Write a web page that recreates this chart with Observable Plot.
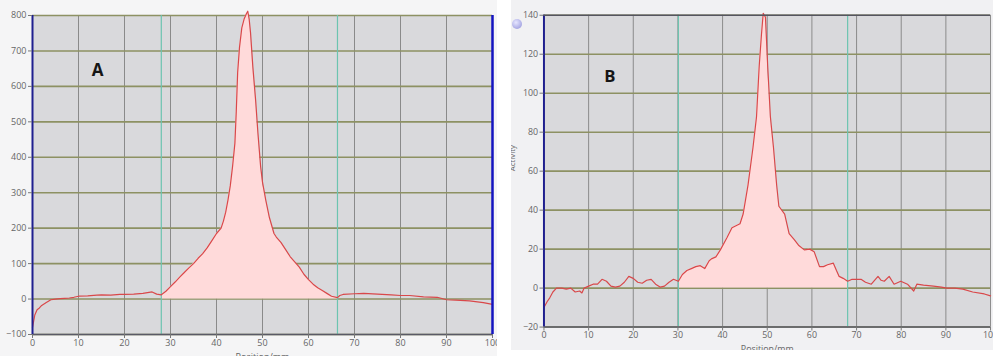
<!DOCTYPE html>
<html>
<head>
<meta charset="utf-8">
<script src="https://cdn.jsdelivr.net/npm/d3@7"></script>
<script src="https://cdn.jsdelivr.net/npm/@observablehq/plot@0.6"></script>
<style>
  html, body { margin: 0; padding: 0; background: #ffffff; overflow: hidden; }
  #wrap { position: relative; width: 993px; height: 356px; overflow: hidden; }
  #wrap > .panel { position: absolute; top: 0; }
  #icon { position: absolute; left: 512px; top: 19px; width: 10px; height: 10px; border-radius: 50%;
          background: radial-gradient(circle at 40% 35%, #e6e6ff, #8f8fd8); }
</style>
</head>
<body>
<div id="wrap">
  <div class="panel" id="pa" style="left:0px"></div>
  <div class="panel" id="pb" style="left:511px"></div>
  <div id="icon"></div>
</div>
<script>
// ---- shared ticks ----
const xTicks = [0, 10, 20, 30, 40, 50, 60, 70, 80, 90, 100];
const xTitle = "Position/mm";

// ---- panel A ----
const aLabel = "A";
const aYTicks = [-100, 0, 100, 200, 300, 400, 500, 600, 700, 800];
const aYDomain = [-100, 800];
const aMarkers = [28, 66.3];
const aPos = [0, 0.5, 1, 1.5, 2, 3, 4, 5, 6, 7, 8, 9, 10, 12, 14, 15, 17, 19, 20, 22, 24, 25, 26, 27, 28,
  29, 30, 31, 32, 33, 34, 35, 36, 37, 38, 39, 40, 41, 41.5, 42, 42.5, 43, 43.5, 44, 44.3, 44.6, 45, 45.5, 46, 46.5, 46.8,
  47.1, 47.4, 47.9, 48.5, 49, 49.6, 50, 50.7, 51.5, 52.5, 53, 54, 55, 56, 57, 58, 59, 60, 61, 62, 63, 64, 65, 66.3,
  66.8, 67.5, 70, 72, 75, 78, 80, 82, 85, 88, 90, 92, 95, 98, 100];
const aAct = [-80, -45, -30, -25, -18, -10, -2, 0, 1, 2, 3, 5, 8, 9, 11, 12, 11, 13, 13, 14, 16, 18, 20, 14, 12,
  22, 35, 48, 62, 75, 88, 100, 115, 128, 145, 165, 185, 200, 220, 245, 280, 320, 375, 440, 530, 640, 710, 765, 790, 805, 812,
  790, 751, 655, 562, 469, 373, 330, 280, 230, 185, 175, 160, 140, 120, 105, 90, 70, 55, 42, 32, 24, 16, 8, 4,
  10, 13, 15, 16, 14, 12, 10, 10, 6, 5, -2, -3, -5, -10, -15];

// ---- panel B ----
const bLabel = "B";
const bYTitle = "Activity";
const bYTicks = [-20, 0, 20, 40, 60, 80, 100, 120, 140];
const bYDomain = [-20, 140];
const bMarkers = [30.1, 68];
const bPos = [0, 0.7, 1.3, 2, 2.8, 4, 5, 6, 7, 8, 8.5, 9, 10, 11, 12, 13, 14, 15, 16, 17, 18, 19, 20, 21, 22, 23, 24,
  25, 26, 27, 28, 29, 30.1, 31, 32, 33, 34, 35, 36, 37, 37.5, 38.5, 39.5, 41, 42.1, 43, 43.9, 44.6, 45.7, 46.8, 47.6,
  48.2, 48.7, 49.1, 49.6, 50.1, 50.7, 51.4, 52.1, 52.6, 53.9, 54.9, 56, 57, 58.3, 59.5, 60.5, 61.7, 62.6, 63.5, 64.8,
  65.5, 66.1, 67, 68, 69, 71, 72, 73.3, 74.8, 75.5, 76.2, 77.3, 78.4, 79.9, 81.4, 82.8, 83.5, 85, 87.2, 89, 90.2, 92,
  93.8, 96, 98.6, 100];
const bAct = [-10, -7, -5, -2, 0, 0, -0.5, 0, -2, -1.5, -2.5, 0, 1, 2, 2, 4.5, 3.5, 1, 0.5, 1, 3, 6, 5, 3, 2.5, 4, 4.5,
  2, 0.5, 1, 3, 4.5, 3.5, 7, 9, 10, 11, 11.5, 10, 14, 15, 16, 19.6, 26, 31, 32, 33, 38, 53, 72, 88,
  114, 130, 141, 139, 114, 88, 72, 53, 42, 38, 28, 25, 22, 19.6, 20, 18.7, 11, 11, 12, 12.8,
  9, 6, 5, 3.5, 4.5, 4.5, 3, 2, 6, 4, 3.5, 6, 2, 3.5, 2, -1.5, 2, 1.5, 1, 0.5, 0, 0,
  -0.5, -2, -3, -4];

function panel(o) {
  const data = o.pos.map((x, i) => ({x, y: o.act[i]}));
  const inside = data.filter(d => d.x >= o.markers[0] && d.x <= o.markers[1]);
  const marks = [
    Plot.frame({fill: "#d9d9dc", stroke: null}),
    Plot.ruleX(xTicks, {stroke: "#8a8a8a", strokeWidth: 1}),
    Plot.ruleY(o.yTicks, {stroke: "#8d9163", strokeWidth: 1.6}),
    Plot.areaY(inside, {x: "x", y1: 0, y2: "y", fill: "#ffdada"}),
    Plot.ruleX(o.markers, {stroke: "#6cc4b0", strokeWidth: 1.2}),
    Plot.line(data, {x: "x", y: "y", stroke: "#d9484a", strokeWidth: 1.2}),
    Plot.ruleY([o.yDomain[0]], {stroke: "#5a5a66", strokeWidth: 1.5}),
    Plot.ruleX([0], {stroke: "#1f1f8f", strokeWidth: 2}),
    Plot.axisY(o.yTicks, {tickSize: 4, tickPadding: 2, label: null, stroke: "#777", fill: "#666"}),
    Plot.axisX(xTicks, {tickSize: 4, tickPadding: 1, label: null, stroke: "#777", fill: "#666"}),
    Plot.text([xTitle], {frameAnchor: "bottom", dy: 19, lineAnchor: "top", fill: "#666", fontSize: 9}),
    Plot.text([o.label], {frameAnchor: "top-left", dx: o.ldx, dy: o.ldy, textAnchor: "middle", lineAnchor: "middle",
      fontSize: 17, fontWeight: "bold", fill: "#151515"})
  ];
  if (o.rightBorder) marks.push(Plot.ruleX([100], {stroke: "#1414c0", strokeWidth: 2.5}));
  if (o.topBorder) marks.push(Plot.ruleY([o.yDomain[1]], {stroke: "#55555f", strokeWidth: 1.5}));
  if (o.yTitle) marks.push(Plot.text([o.yTitle], {frameAnchor: "left", dx: -32, rotate: -90, fontSize: 8, fill: "#666"}));
  return Plot.plot({
    width: o.width, height: 356,
    marginLeft: o.ml, marginRight: o.mr, marginTop: 15, marginBottom: o.mb,
    x: {domain: [0, 100]},
    y: {domain: o.yDomain},
    style: {background: o.bg, fontFamily: "'Open Sans', 'DejaVu Sans', sans-serif", fontSize: "9px", color: "#666"},
    marks
  });
}

document.getElementById("pa").appendChild(panel({
  pos: aPos, act: aAct, yTicks: aYTicks, yDomain: aYDomain, markers: aMarkers, label: aLabel,
  width: 497, ml: 32, mr: 5, mb: 22, ldx: 65, ldy: 55, rightBorder: true, bg: "#f5f5f6"
}));
document.getElementById("pb").appendChild(panel({
  pos: bPos, act: bAct, yTicks: bYTicks, yDomain: bYDomain, markers: bMarkers, label: bLabel, yTitle: bYTitle,
  width: 490, ml: 33, mr: 3, mb: 24, ldx: 67, ldy: 62, topBorder: true, bg: "#f1f1f3"
}));
</script>
</body>
</html>
